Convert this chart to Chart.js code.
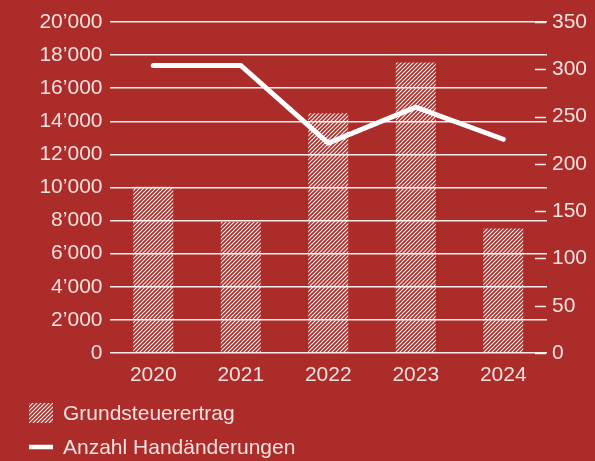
<!DOCTYPE html>
<html>
<head>
<meta charset="utf-8">
<script src="https://cdn.jsdelivr.net/npm/chart.js@4.4.1/dist/chart.umd.min.js"></script>
<style>
    html, body { margin: 0; padding: 0; background: #ab2c29; }
    #wrap { width: 595px; height: 461px; }
</style>
</head>
<body>
<div id="wrap"><canvas id="chart" width="595" height="461"></canvas></div>
<script>
// Data
const years = ['2020', '2021', '2022', '2023', '2024'];
const grundsteuerertrag = [10050, 7930, 14480, 17560, 7530];
const handaenderungen = [304, 304, 222, 260, 226];
const leftAxis = { min: 0, max: 20000, step: 2000 };
const rightAxis = { min: 0, max: 350, step: 50 };
const legendLabels = ['Grundsteuerertrag', 'Anzahl Handänderungen'];

const textColor = 'rgba(255, 255, 255, 0.86)';
const gridColor = 'rgba(255, 255, 255, 0.92)';
const fontFamily = "'Liberation Sans', Arial, sans-serif";

const canvas = document.getElementById('chart');
const ctx = canvas.getContext('2d');

// diagonal hatch for the bars
function makeHatch() {
    const size = 4;
    const tile = document.createElement('canvas');
    tile.width = size;
    tile.height = size;
    const g = tile.getContext('2d');
    g.strokeStyle = 'rgba(255, 255, 255, 0.95)';
    g.lineWidth = 1.2;
    g.beginPath();
    g.moveTo(0, size); g.lineTo(size, 0);
    g.moveTo(-1, 1); g.lineTo(1, -1);
    g.moveTo(size - 1, size + 1); g.lineTo(size + 1, size - 1);
    g.stroke();
    return ctx.createPattern(tile, 'repeat');
}
const hatch = makeHatch();

function swissNumber(v) {
    return String(v).replace(/\B(?=(\d{3})+(?!\d))/g, '\u2019');
}

// small dashes on the inner side of the right axis
const rightDashes = {
    id: 'rightDashes',
    beforeDatasetsDraw(chart) {
        const s = chart.scales.yR;
        const c = chart.ctx;
        c.save();
        c.strokeStyle = gridColor;
        c.lineWidth = 1.5;
        s.ticks.forEach((t, i) => {
            const y = Math.round(s.getPixelForTick(i)) + 0.5;
            c.beginPath();
            c.moveTo(s.left - 12, y);
            c.lineTo(s.left - 1, y);
            c.stroke();
        });
        c.restore();
    }
};

// legend stacked in two rows, bottom left
const stackedLegend = {
    id: 'stackedLegend',
    afterDraw(chart) {
        const c = chart.ctx;
        const x0 = 29, textX = 63;
        const rows = [413, 447];
        c.save();
        c.font = '21px ' + fontFamily;
        c.textBaseline = 'middle';
        // bar swatch
        c.fillStyle = hatch;
        c.fillRect(x0, rows[0] - 10, 24, 20);
        // line swatch
        c.strokeStyle = '#ffffff';
        c.lineWidth = 4.5;
        c.beginPath();
        c.moveTo(x0, rows[1]);
        c.lineTo(x0 + 24, rows[1]);
        c.stroke();
        c.fillStyle = textColor;
        legendLabels.forEach((lbl, i) => c.fillText(lbl, textX, rows[i] + 1));
        c.restore();
    }
};

new Chart(ctx, {
    data: {
        labels: years,
        datasets: [
            {
                type: 'line',
                label: legendLabels[1],
                data: handaenderungen,
                yAxisID: 'yR',
                borderColor: '#ffffff',
                borderWidth: 5,
                borderCapStyle: 'round',
                borderJoinStyle: 'miter',
                pointRadius: 0,
                tension: 0,
                order: 0
            },
            {
                type: 'bar',
                label: legendLabels[0],
                data: grundsteuerertrag,
                yAxisID: 'yL',
                backgroundColor: hatch,
                borderWidth: 0,
                barPercentage: 0.457,
                categoryPercentage: 1,
                order: 1
            }
        ]
    },
    options: {
        responsive: false,
        animation: false,
        devicePixelRatio: 1,
        layout: { padding: { top: 22, left: 0, right: 0, bottom: 0 } },
        plugins: {
            legend: { display: false },
            tooltip: { enabled: false }
        },
        scales: {
            x: {
                grid: { display: false },
                border: { display: false },
                ticks: {
                    color: textColor,
                    padding: 2,
                    font: { family: fontFamily, size: 21 }
                },
                afterFit(scale) { scale.height = 108; }
            },
            yL: {
                position: 'left',
                min: leftAxis.min,
                max: leftAxis.max,
                grid: { color: gridColor, lineWidth: 1.5, drawTicks: false },
                border: { display: false },
                ticks: {
                    stepSize: leftAxis.step,
                    color: textColor,
                    padding: 7,
                    font: { family: fontFamily, size: 21 },
                    callback: v => swissNumber(v)
                },
                afterFit(scale) { scale.width = 109.5; }
            },
            yR: {
                position: 'right',
                min: rightAxis.min,
                max: rightAxis.max,
                grid: { drawOnChartArea: false, drawTicks: false },
                border: { display: false },
                ticks: {
                    stepSize: rightAxis.step,
                    color: textColor,
                    padding: 5,
                    font: { family: fontFamily, size: 21 }
                },
                afterFit(scale) { scale.width = 48; }
            }
        }
    },
    plugins: [rightDashes, stackedLegend]
});
</script>
</body>
</html>
